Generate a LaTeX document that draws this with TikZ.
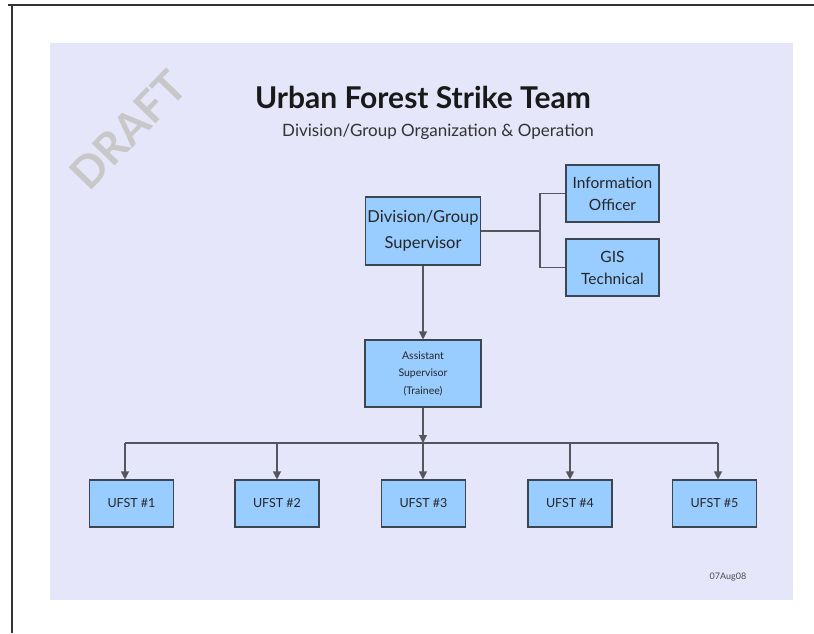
\documentclass[tikz,border=0pt]{standalone}
\usepackage{fontspec}
\setmainfont{Lato}
\usetikzlibrary{arrows.meta}
\definecolor{panel}{HTML}{E6E6FA}
\definecolor{boxfill}{HTML}{99CCFF}
\definecolor{boxline}{HTML}{3C4650}
\definecolor{conn}{HTML}{555560}
\definecolor{wm}{HTML}{C8C8C8}
\tikzset{
  orgbox/.style={draw=boxline, line width=1.1pt, fill=boxfill, inner sep=0pt, align=center, text=black!85},
  conline/.style={draw=conn, line width=1.1pt},
  conarrow/.style={conline, -{Triangle[width=8pt,length=8pt]}}
}
\begin{document}
\begin{tikzpicture}[x=1pt,y=-1pt]
\useasboundingbox (0,0) rectangle (814,633);
\fill[white] (0,0) rectangle (814,633);
% frame
\draw[black!80, line width=1.6pt] (8,5) -- (814,5);
\draw[black!80, line width=1.6pt] (12,5) -- (12,633);
% panel
\fill[panel] (50,43) rectangle (793,600);
% watermark
\node[rotate=46, text=wm, font=\bfseries\fontsize{44}{44}\selectfont, inner sep=0pt] (draft) at (128,130) {DRAFT};
% title
\node[font=\bfseries\fontsize{30}{34}\selectfont, text=black!90, inner sep=0pt] (title) at (423,97) {Urban Forest Strike Team};
\node[font=\fontsize{17}{20}\selectfont, text=black!80, inner sep=0pt] (sub) at (438,132) {Division/Group Organization \& Operation};
% boxes
\node[orgbox, minimum width=115pt, minimum height=68pt, font=\fontsize{16.5}{26}\selectfont] (dgs) at (423,231) {Division/Group\\Supervisor};
\node[orgbox, minimum width=93pt, minimum height=57pt, font=\fontsize{15.5}{22}\selectfont] (info) at (612.5,193.5) {Information\\Officer};
\node[orgbox, minimum width=93pt, minimum height=57pt, font=\fontsize{15.5}{22}\selectfont] (gis) at (612.5,267.5) {GIS\\Technical};
\node[orgbox, minimum width=116pt, minimum height=67pt, font=\fontsize{10.5}{17.5}\selectfont] (asst) at (423,373.5) {Assistant\\Supervisor\\(Trainee)};
\foreach \i/\x in {1/131.5,2/277,3/423.5,4/570,5/714.5}{
  \node[orgbox, minimum width=84pt, minimum height=47pt, font=\fontsize{12.5}{14}\selectfont] (u\i) at (\x,503.5) {UFST \#\i};
}
% connectors
\coordinate (jn) at (540,231);
\draw[conline] (dgs.east) -- (jn);
\draw[conline] (info.west) -| (jn) |- (gis.west);
\draw[conarrow] (dgs.south) -- (asst.north);
\coordinate (bus) at (423,443);
\draw[conarrow] (asst.south) -- (bus);
\coordinate (b1) at (125,443);
\coordinate (b2) at (277,443);
\coordinate (b3) at (423,443);
\coordinate (b4) at (570,443);
\coordinate (b5) at (718,443);
\draw[conline] (b1) -- (b5);
\draw[conarrow] (b1) -- (b1 |- u1.north);
\draw[conarrow] (b2) -- (b2 |- u2.north);
\draw[conarrow] (b3) -- (b3 |- u3.north);
\draw[conarrow] (b4) -- (b4 |- u4.north);
\draw[conarrow] (b5) -- (b5 |- u5.north);
% date
\node[font=\fontsize{9}{11}\selectfont, text=black!70, inner sep=0pt] (date) at (728,577) {07Aug08};
\end{tikzpicture}
\end{document}
